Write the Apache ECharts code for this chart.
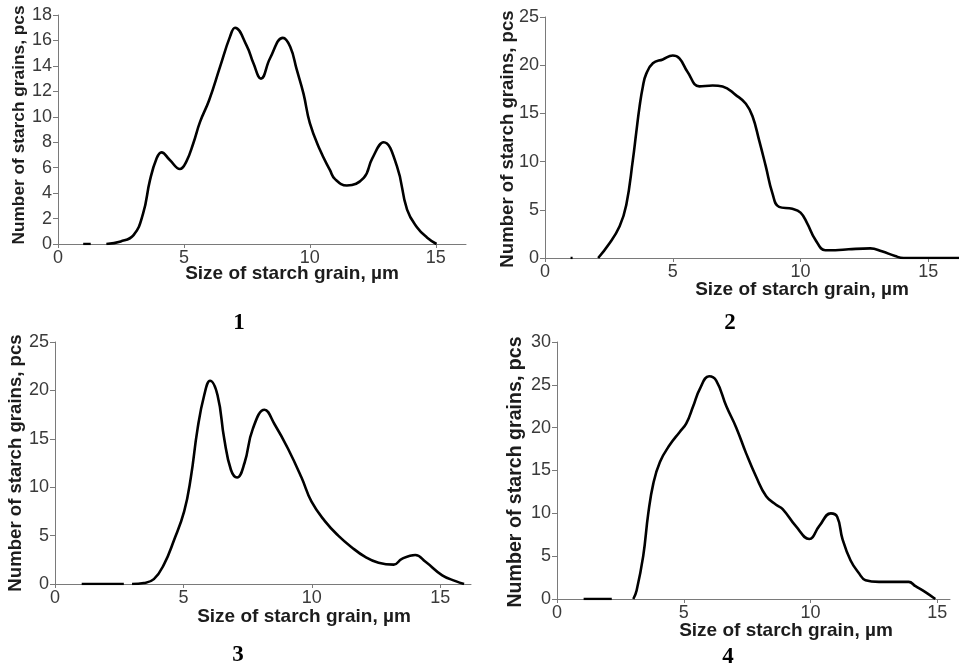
<!DOCTYPE html>
<html>
<head>
<meta charset="utf-8">
<style>
  html, body { margin: 0; padding: 0; background: #fff; }
  #chart { width: 959px; height: 669px; }
</style>
</head>
<body>
<div id="chart"></div>
<script src="https://cdn.jsdelivr.net/npm/echarts@6/dist/echarts.min.js"></script>
<script>
// grain size (um) and number of grains, one pair of arrays per panel
// null marks a gap in the drawn curve
var sizes1 = [1.0, 1.3, 1.6, 1.92, 2.49, 3.0, 3.38, 3.65, 3.91, 4.11, 4.44, 4.84, 5.1, 5.37, 5.64, 6.0, 6.43, 6.83, 7.03, 7.49,
  7.76, 8.06, 8.42, 8.93, 9.22, 9.48, 9.75, 10.0, 10.4, 10.8, 11.0, 11.47, 12.14, 12.47, 12.93, 13.46, 13.86, 14.26, 14.66, 15.03];
var counts1 = [0, 0, null, 0, 0.2, 0.7, 2.4, 5, 6.7, 7.2, 6.6, 5.9, 6.5, 7.9, 9.6, 11.3, 13.9, 16.3, 17, 15.6,
  14.2, 13, 14.6, 16.2, 15.5, 13.7, 11.8, 9.5, 7.4, 5.8, 5.1, 4.6, 5.2, 6.7, 8.0, 6.1, 2.7, 1.3, 0.5, 0];

var sizes2 = [1.0, 1.08, 1.5, 2.08, 2.49, 2.92, 3.18, 3.44, 3.57, 3.70, 3.83, 3.96, 4.22, 4.61, 5.0, 5.26, 5.58, 6.04, 6.56, 6.95,
  7.47, 7.86, 8.12, 8.38, 8.64, 8.9, 9.16, 9.68, 10.0, 10.26, 10.58, 10.97, 11.36, 11.88, 12.73, 13.18, 13.7, 14.03, 16.2];
var counts2 = [0, 0, null, 0, 1.4, 3.3, 5.5, 10.2, 13, 15.7, 17.8, 19.1, 20.2, 20.6, 21, 20.7, 19.3, 17.8, 17.9, 17.8,
  16.9, 16, 14.7, 12.2, 9.5, 6.7, 5.3, 5.1, 4.7, 3.6, 1.9, 0.8, 0.8, 0.9, 1.0, 0.7, 0.2, 0, 0];

var sizes3 = [1.04, 2.68, 2.85, 3.0, 3.46, 3.85, 4.24, 4.63, 5.03, 5.29, 5.55, 5.81, 6.04, 6.33, 6.59, 6.85, 7.09, 7.38,
  7.7, 8.16, 8.55, 9.07, 9.6, 9.99, 10.51, 11.03, 11.55, 12.08, 12.6, 13.19, 13.51, 14.03, 14.43, 15.08, 15.6, 15.93];
var counts3 = [0, 0, null, 0, 0.1, 0.5, 2, 4.5, 7.5, 11, 16, 19.5, 21, 19.5, 15, 11.8, 11, 12.5,
  16, 18, 16.5, 14, 11, 8.5, 6.5, 5, 3.8, 2.8, 2.2, 2, 2.6, 3, 2.3, 0.9, 0.3, 0];

var sizes4 = [1.05, 2.16, 2.6, 3.01, 3.14, 3.4, 3.6, 3.8, 4.06, 4.45, 4.84, 5.1, 5.37, 5.63, 6.0, 6.28, 6.68, 7.07, 7.46,
  7.85, 8.25, 8.64, 8.9, 9.42, 9.95, 10.34, 10.8, 11.05, 11.26, 11.58, 11.91, 12.17, 12.7, 13.35, 13.87, 14.14, 14.53, 14.92];
var counts4 = [0, 0, null, 0, 1, 5, 10, 13.5, 16, 18, 19.5, 20.5, 22.5, 24.5, 26, 25.5, 22.5, 20, 17,
  14.3, 12, 11, 10.5, 8.5, 7, 8.5, 10, 9.6, 7, 4.5, 3, 2.2, 2, 2, 2, 1.5, 0.8, 0];

var xTicks = [0, 5, 10, 15];
var yMax = [18, 25, 25, 30];
var yStep = [2, 5, 5, 5];
var panelLabels = ['1', '2', '3', '4'];
var xTitle = 'Size of starch grain, \u00b5m';
var yTitle = 'Number of starch grains, pcs';

var chart = echarts.init(document.getElementById('chart'));

var grids = [
  {left: 58, top: 15, width: 408, height: 229},
  {left: 545, top: 17, width: 414, height: 241},
  {left: 55, top: 342, width: 416, height: 242},
  {left: 557, top: 342, width: 393, height: 257}
];
var xMax = [16.2, 16.2, 16.2, 15.5];

var sizes = [sizes1, sizes2, sizes3, sizes4];
var counts = [counts1, counts2, counts3, counts4];

var axisColor = '#7a7a7a';
var labelStyle = {color: '#3a3a3a', fontSize: 18, fontFamily: 'Liberation Sans'};

var xAxes = [], yAxes = [], series = [];
for (var i = 0; i < 4; i++) {
  xAxes.push({
    type: 'value', gridIndex: i, min: 0, max: xMax[i], interval: 5,
    splitLine: {show: false},
    axisLine: {lineStyle: {color: axisColor, width: 1}},
    axisTick: {length: 4, customValues: xTicks, lineStyle: {color: axisColor}},
    axisLabel: Object.assign({margin: 5, customValues: xTicks}, labelStyle)
  });
  yAxes.push({
    type: 'value', gridIndex: i, min: 0, max: yMax[i], interval: yStep[i],
    splitLine: {show: false},
    axisLine: {show: true, lineStyle: {color: axisColor, width: 1}},
    axisTick: {show: true, length: 5, lineStyle: {color: axisColor}},
    axisLabel: Object.assign({margin: 6}, labelStyle)
  });
  var pts = sizes[i].map(function (s, k) { return [s, counts[i][k]]; });
  series.push({
    type: 'line', xAxisIndex: i, yAxisIndex: i,
    data: pts, smooth: 0.45, showSymbol: false, symbol: 'none',
    connectNulls: false,
    lineStyle: {color: '#000', width: 2.6},
    z: 5
  });
}

// titles drawn as graphic text so they sit where the original puts them
var yTitlePos = [[19, 125, 17.3], [508, 139, 18.6], [16, 463, 18.6], [516, 472, 19.6]];
var xTitlePos = [[292, 274], [802, 290], [304, 617], [786, 631]];
var numPos = [[239, 323], [730, 323], [238, 655], [728, 657]];

var graphics = [];
for (var j = 0; j < 4; j++) {
  graphics.push({
    type: 'text', x: yTitlePos[j][0], y: yTitlePos[j][1], rotation: Math.PI / 2,
    style: {text: yTitle, font: 'bold ' + yTitlePos[j][2] + 'px "Liberation Sans"', fill: '#1c1c1c',
      textAlign: 'center', textVerticalAlign: 'middle'}
  });
  graphics.push({
    type: 'text', x: xTitlePos[j][0], y: xTitlePos[j][1],
    style: {text: xTitle, font: 'bold 19px "Liberation Sans"', fill: '#1c1c1c',
      textAlign: 'center', textVerticalAlign: 'middle'}
  });
  graphics.push({
    type: 'text', x: numPos[j][0], y: numPos[j][1],
    style: {text: panelLabels[j], font: 'bold 23px "Liberation Serif"', fill: '#000',
      textAlign: 'center', textVerticalAlign: 'middle'}
  });
}

chart.setOption({
  backgroundColor: '#fff',
  animation: false,
  grid: grids,
  xAxis: xAxes,
  yAxis: yAxes,
  series: series,
  graphic: graphics
});
</script>
</body>
</html>
